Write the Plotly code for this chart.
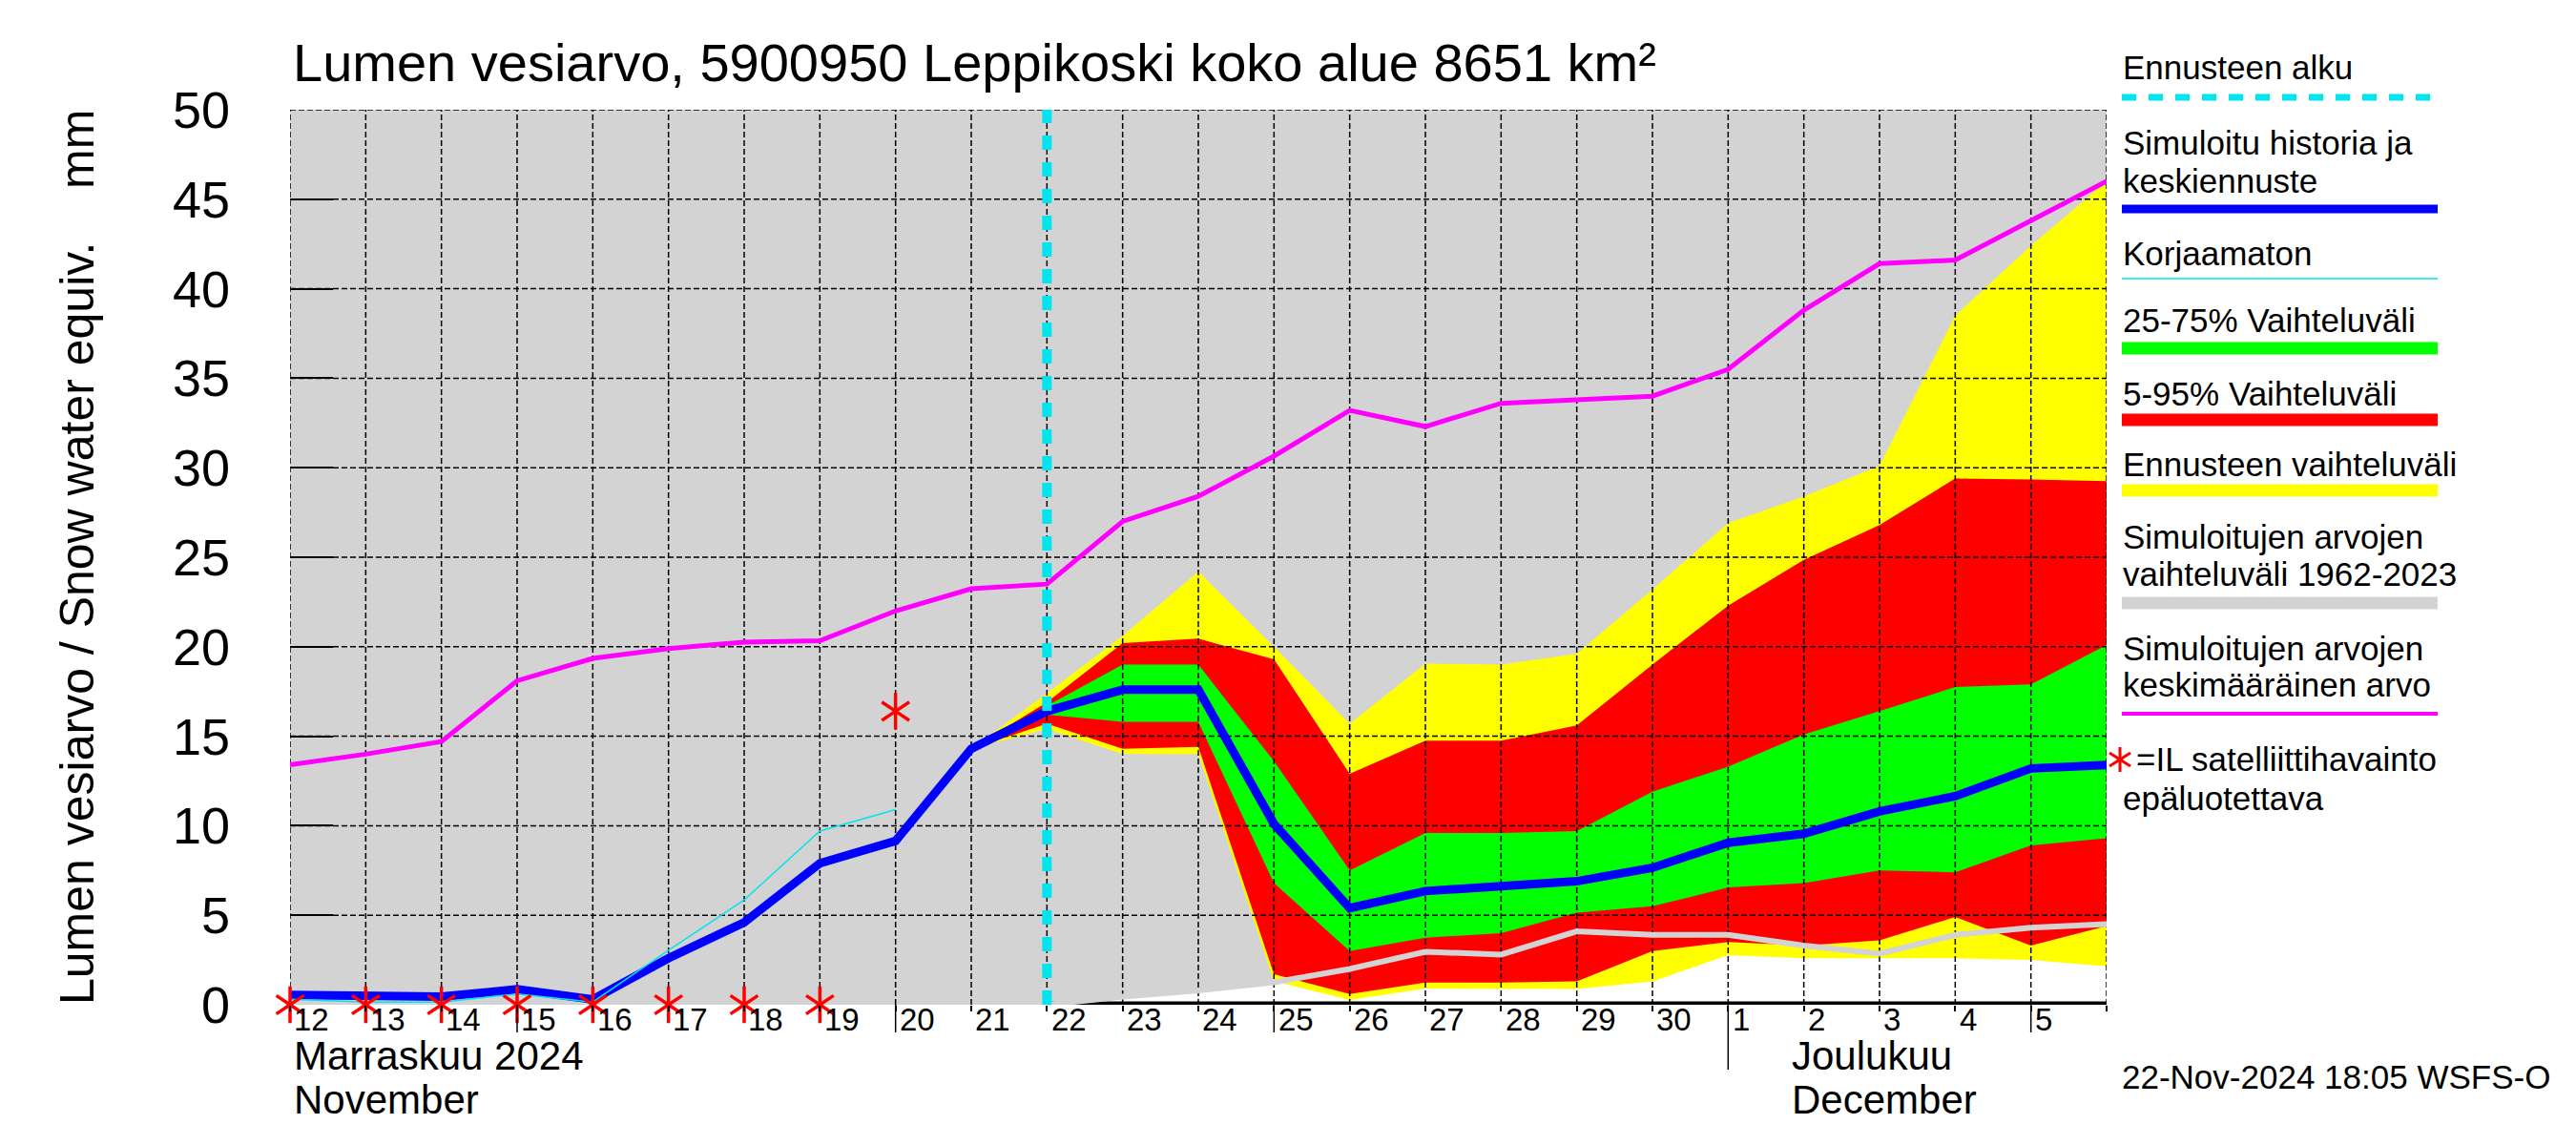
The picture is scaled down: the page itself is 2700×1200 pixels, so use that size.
import plotly.graph_objects as go
import pandas as pd

# ---------------- data ----------------
dates = [d.strftime('%Y-%m-%d') for d in pd.date_range('2024-11-12', '2024-12-06', freq='D')]
day_labels = ['12', '13', '14', '15', '16', '17', '18', '19', '20', '21', '22', '23', '24', '25',
              '26', '27', '28', '29', '30', '1', '2', '3', '4', '5']

# simulated mean of 1962-2023 (magenta)
sim_mean = [13.4, 14.0, 14.7, 18.1, 19.35, 19.9, 20.26, 20.33, 22.0, 23.24, 23.5,
            27.0, 28.4, 30.65, 33.2, 32.3, 33.6, 33.8, 34.0, 35.5, 38.8, 41.4, 41.6, 43.8, 46.0]
# simulated history + median forecast (blue)
sim_median = [0.55, 0.45, 0.45, 0.86, 0.3, 2.6, 4.6, 7.9, 9.15, 14.3, 16.4,
              17.6, 17.6, 10.1, 5.4, 6.35, 6.6, 6.9, 7.65, 9.05, 9.55, 10.8, 11.65, 13.2, 13.4]
# lower bound of simulated range 1962-2023 (grey area starts here)
sim_range_min = [0, 0, 0, 0, 0, 0, 0, 0, 0, 0, 0,
                 0.45, 0.8, 1.25, 2.0, 2.96, 2.8, 4.1, 3.9, 3.9, 3.3, 2.85, 3.9, 4.3, 4.5]
# uncorrected (thin cyan)
uncorr_dates = dates[:9]
uncorrected = [0.3, 0.15, 0.15, 0.6, 0.15, 3.05, 5.85, 9.7, 10.9]

# forecast bands, from 21 Nov to 6 Dec
band_dates = dates[9:]
yellow_max = [14.3, 17.4, 20.6, 24.2, 20.0, 15.7, 19.05, 19.0, 19.6, 23.2, 26.9, 28.4, 30.1, 38.5, 42.4, 46.0]
red_max = [14.3, 16.9, 20.2, 20.45, 19.3, 12.9, 14.75, 14.75, 15.6, 19.0, 22.3, 24.85, 26.8, 29.4, 29.35, 29.25]
green_max = [14.3, 16.7, 19.0, 19.0, 13.6, 7.5, 9.6, 9.6, 9.7, 11.9, 13.3, 15.1, 16.4, 17.75, 17.9, 20.1]
green_min = [14.3, 16.2, 15.8, 15.8, 6.8, 3.0, 3.75, 4.0, 5.15, 5.5, 6.55, 6.8, 7.5, 7.4, 8.9, 9.3]
red_min = [14.3, 15.7, 14.3, 14.4, 1.7, 0.6, 1.24, 1.24, 1.3, 3.0, 3.5, 3.3, 3.6, 4.9, 3.3, 4.4]
yellow_min = [14.3, 15.4, 14.0, 14.0, 1.3, 0.26, 0.9, 0.9, 0.88, 1.3, 2.77, 2.6, 2.6, 2.6, 2.5, 2.15]

# satellite observations (unreliable)
obs_dates = ['2024-11-12', '2024-11-13', '2024-11-14', '2024-11-15', '2024-11-16',
             '2024-11-17', '2024-11-18', '2024-11-19', '2024-11-20']
obs_values = [0, 0, 0, 0, 0, 0, 0, 0, 16.4]

forecast_start = '2024-11-22'
y_ticks = [0, 5, 10, 15, 20, 25, 30, 35, 40, 45, 50]
long_tick_dates = ['2024-11-15', '2024-11-20', '2024-11-25', '2024-12-05']
month_start = '2024-12-01'

# ---------------- layout helpers ----------------
OFF = 8                      # page body margin of the html page
W, H = 2700 - OFF, 1200 - OFF
L, R, T, B = 304 - OFF, 2208 - OFF, 115 - OFF, 1053 - OFF
PW, PH = R - L, B - T
FONT = 'Liberation Sans, Arial, Helvetica, sans-serif'


def px_x(x):
    """window pixel x -> paper x"""
    return (x - OFF - L) / PW


def px_y(y):
    """window pixel y -> paper y"""
    return (B - (y - OFF)) / PH


fig = go.Figure()

# white region below the simulated range minimum
fig.add_trace(go.Scatter(x=dates, y=sim_range_min, mode='lines', line=dict(width=0),
                         fill='tozeroy', fillcolor='white', hoverinfo='skip', showlegend=False))

fi = dates.index(forecast_start)
# black baseline visible below the simulated range in the forecast period
fig.add_trace(go.Scatter(x=dates[fi:], y=[y_ticks[0]] * len(dates[fi:]), mode='lines',
                         line=dict(color='black', width=7), hoverinfo='skip', showlegend=False))

# bands
for lo, hi, col in [(yellow_min, yellow_max, '#ffff00'),
                    (red_min, red_max, '#ff0000'),
                    (green_min, green_max, '#00ff00')]:
    fig.add_trace(go.Scatter(x=band_dates, y=lo, mode='lines', line=dict(width=0),
                             hoverinfo='skip', showlegend=False))
    fig.add_trace(go.Scatter(x=band_dates, y=hi, mode='lines', line=dict(width=0),
                             fill='tonexty', fillcolor=col, hoverinfo='skip', showlegend=False))

# dashed grid drawn above the filled areas
gx, gy = [], []
for d in dates:
    gx += [d, d, None]
    gy += [y_ticks[0], y_ticks[-1], None]
for v in y_ticks[1:]:
    gx += [dates[0], dates[-1], None]
    gy += [v, v, None]
fig.add_trace(go.Scatter(x=gx, y=gy, mode='lines', connectgaps=False,
                         line=dict(color='black', width=1.5, dash='6px,3px'),
                         hoverinfo='skip', showlegend=False))

# lower bound of simulated range as grey line over the forecast period
fig.add_trace(go.Scatter(x=dates[fi:], y=sim_range_min[fi:], mode='lines',
                         line=dict(color='#d3d3d3', width=6), hoverinfo='skip', showlegend=False))

# mean (magenta)
fig.add_trace(go.Scatter(x=dates, y=sim_mean, mode='lines',
                         line=dict(color='#ff00ff', width=5), showlegend=False))
# median / history (blue)
fig.add_trace(go.Scatter(x=dates, y=sim_median, mode='lines',
                         line=dict(color='#0000ff', width=9), showlegend=False))
# uncorrected (thin cyan)
fig.add_trace(go.Scatter(x=uncorr_dates, y=uncorrected, mode='lines',
                         line=dict(color='#00e5ee', width=1.5), showlegend=False))
# forecast start
fig.add_trace(go.Scatter(x=[forecast_start, forecast_start], y=[y_ticks[0], y_ticks[-1]], mode='lines',
                         line=dict(color='#00e5ee', width=10, dash='15px,13px'),
                         hoverinfo='skip', showlegend=False))
# satellite stars
for sym in ['y-up-open', 'y-down-open']:
    fig.add_trace(go.Scatter(x=obs_dates, y=obs_values, mode='markers', cliponaxis=False,
                             marker=dict(symbol=sym, size=24, color='#ff0000',
                                         line=dict(color='#ff0000', width=3.5)),
                             showlegend=False))

annotations = []
shapes = []

# day labels
for d, lab in zip(dates[:-1], day_labels):
    annotations.append(dict(x=pd.Timestamp(d) + pd.Timedelta(hours=1), y=px_y(1068),
                            xref='x', yref='paper', text=lab, showarrow=False,
                            xanchor='left', yanchor='middle', borderpad=0,
                            font=dict(size=33, color='black', family=FONT)))
# month labels
for x, txt, yy in [(pd.Timestamp(dates[0]) + pd.Timedelta(hours=1), 'Marraskuu 2024', 1106),
                   (pd.Timestamp(dates[0]) + pd.Timedelta(hours=1), 'November', 1152),
                   (pd.Timestamp(month_start) + pd.Timedelta(hours=20), 'Joulukuu', 1106),
                   (pd.Timestamp(month_start) + pd.Timedelta(hours=20), 'December', 1152)]:
    annotations.append(dict(x=x, y=px_y(yy), xref='x', yref='paper', text=txt, showarrow=False,
                            xanchor='left', yanchor='middle', borderpad=0,
                            font=dict(size=42, color='black', family=FONT)))

# longer ticks
for d in long_tick_dates:
    shapes.append(dict(type='line', xref='x', yref='paper', x0=d, x1=d, y0=0, y1=px_y(1082),
                       line=dict(color='black', width=1.5)))
shapes.append(dict(type='line', xref='x', yref='paper', x0=month_start, x1=month_start,
                   y0=0, y1=px_y(1121), line=dict(color='black', width=1.5)))

# title
annotations.append(dict(x=px_x(306), y=px_y(66), xref='paper', yref='paper',
                        text='Lumen vesiarvo, 5900950 Leppikoski koko alue 8651 km²',
                        showarrow=False, xanchor='left', yanchor='middle', borderpad=0,
                        font=dict(size=56, color='black', family=FONT)))
# y title
annotations.append(dict(x=px_x(81), y=px_y(584), xref='paper', yref='paper',
                        text='Lumen vesiarvo / Snow water equiv.\u00a0\u00a0\u00a0\u00a0mm',
                        showarrow=False, textangle=-90, xanchor='center', yanchor='middle',
                        font=dict(size=50, color='black', family=FONT)))
# timestamp
annotations.append(dict(x=px_x(2223), y=px_y(1128), xref='paper', yref='paper',
                        text='22-Nov-2024 18:05 WSFS-O', showarrow=False,
                        xanchor='left', yanchor='middle', borderpad=0,
                        font=dict(size=35, color='black', family=FONT)))

# legend
LX0, LX1 = 2224, 2555
legend_texts = [('Ennusteen alku', 71), ('Simuloitu historia ja', 149), ('keskiennuste', 189),
                ('Korjaamaton', 265), ('25-75% Vaihteluväli', 335), ('5-95% Vaihteluväli', 412),
                ('Ennusteen vaihteluväli', 486), ('Simuloitujen arvojen', 562),
                ('vaihteluväli 1962-2023', 601), ('Simuloitujen arvojen', 679),
                ('keskimääräinen arvo', 717), ('epäluotettava', 836)]
for txt, yy in legend_texts:
    annotations.append(dict(x=px_x(LX0), y=px_y(yy), xref='paper', yref='paper', text=txt,
                            showarrow=False, xanchor='left', yanchor='middle', borderpad=0,
                            font=dict(size=35, color='black', family=FONT)))
annotations.append(dict(x=px_x(2238), y=px_y(796), xref='paper', yref='paper',
                        text='=IL satelliittihavainto', showarrow=False, xanchor='left',
                        yanchor='middle', borderpad=0, font=dict(size=35, color='black', family=FONT)))

legend_lines = [(102, '#00e5ee', 7, '15px,13px'), (219, '#0000ff', 9, 'solid'),
                (292, '#00e5ee', 1.5, 'solid'), (365, '#00ff00', 13, 'solid'),
                (440, '#ff0000', 13, 'solid'), (514, '#ffff00', 13, 'solid'),
                (632, '#d3d3d3', 13, 'solid'), (748, '#ff00ff', 4, 'solid')]
for yy, col, w, dash in legend_lines:
    shapes.append(dict(type='line', xref='paper', yref='paper', x0=px_x(LX0), x1=px_x(LX1),
                       y0=px_y(yy), y1=px_y(yy), line=dict(color=col, width=w, dash=dash)))
# legend star (6 arms)
cx, cy = 2222, 796
for dx, dy in [(0, 13), (11, 7), (-11, 7)]:
    shapes.append(dict(type='line', xref='paper', yref='paper',
                       x0=px_x(cx - dx), x1=px_x(cx + dx), y0=px_y(cy - dy), y1=px_y(cy + dy),
                       line=dict(color='#ff0000', width=3)))

fig.update_layout(
    width=W, height=H,
    margin=dict(l=L, r=W - R, t=T, b=H - B, pad=0),
    paper_bgcolor='white', plot_bgcolor='#d3d3d3',
    font=dict(family=FONT, color='black'),
    showlegend=False,
    annotations=annotations, shapes=shapes,
    xaxis=dict(type='date', range=[dates[0], dates[-1]], showgrid=False, zeroline=False,
               showticklabels=False, ticks='outside', ticklen=6, tickwidth=1.5, tickcolor='black',
               tickvals=dates, showline=False),
    yaxis=dict(range=[y_ticks[0], y_ticks[-1]], tickvals=y_ticks, showgrid=False, zeroline=False,
               ticks='inside', ticklen=45, tickwidth=1.5, tickcolor='black',
               tickfont=dict(size=54, family=FONT, color='black'), ticklabelstandoff=62,
               showline=False),
)

fig.write_html('out.html')
